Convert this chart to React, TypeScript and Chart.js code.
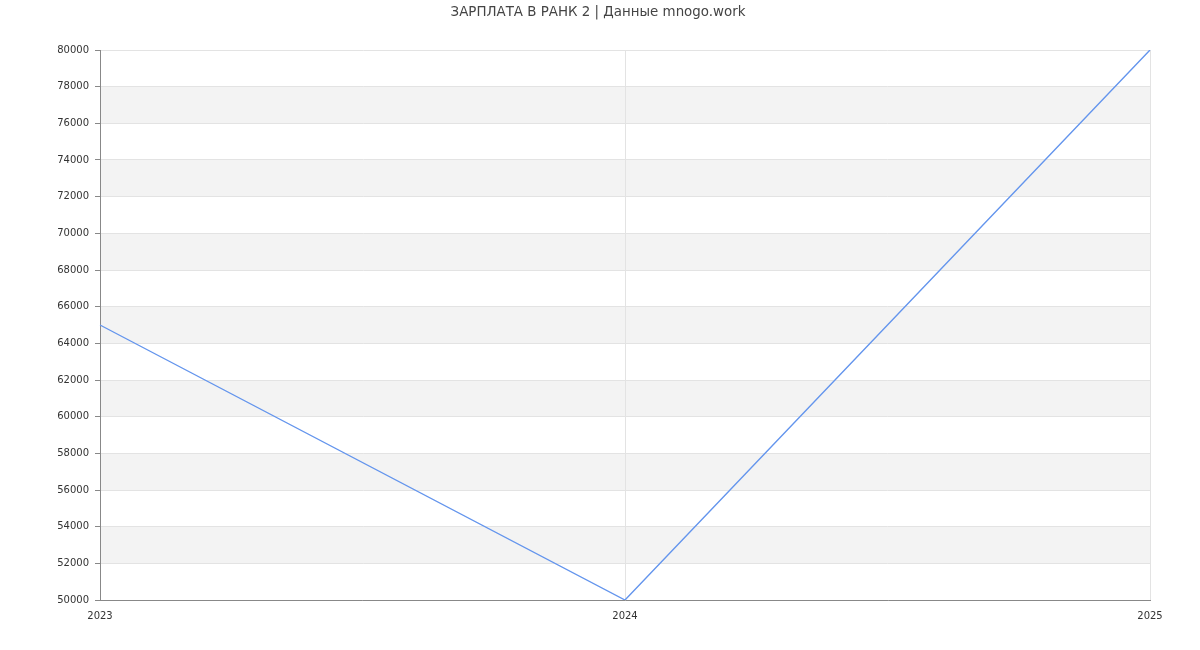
import React, { useEffect, useRef } from "react";
import { Chart, registerables } from "chart.js";

Chart.register(...registerables);

const years = ["2023", "2024", "2025"];
const salaries = [65000, 50000, 80000];
const titleText = "ЗАРПЛАТА В РАНК 2 | Данные mnogo.work";
const yMin = 50000;
const yMax = 80000;
const yStep = 2000;

const bandsPlugin = {
  id: "bands",
  beforeDraw(chart: any) {
    const { ctx, chartArea, scales } = chart;
    const y = scales.y;
    ctx.save();
    ctx.fillStyle = "#f3f3f3";
    for (let v = yMin; v < yMax; v += yStep) {
      if (((v - yMin) / yStep) % 2 === 1) {
        const top = y.getPixelForValue(v + yStep);
        const bot = y.getPixelForValue(v);
        ctx.fillRect(chartArea.left, top, chartArea.right - chartArea.left, bot - top);
      }
    }
    ctx.restore();
  },
};

const titlePlugin = {
  id: "customTitle",
  afterDraw(chart: any) {
    const { ctx } = chart;
    ctx.save();
    ctx.font = "13.4px 'DejaVu Sans'";
    ctx.fillStyle = "#444";
    ctx.textAlign = "center";
    ctx.textBaseline = "middle";
    ctx.fillText(titleText, 598, 12.5);
    ctx.restore();
  },
};

export default function App() {
  const ref = useRef<HTMLCanvasElement | null>(null);
  useEffect(() => {
    if (!ref.current) return;
    const chart = new Chart(ref.current, {
      type: "line",
      data: {
        labels: years,
        datasets: [
          {
            data: salaries,
            borderColor: "#6495ED",
            borderWidth: 1.4,
            pointRadius: 0,
            tension: 0,
            fill: false,
          },
        ],
      },
      options: {
        animation: false,
        responsive: false,
        maintainAspectRatio: false,
        layout: { padding: { top: 50, right: 50, left: 0, bottom: 0 } },
        plugins: { legend: { display: false }, tooltip: { enabled: false }, title: { display: false } },
        scales: {
          x: {
            offset: false,
            afterFit(scale: any) {
              scale.height = 50;
            },
            grid: { color: "#e3e3e3", drawTicks: false },
            border: { color: "#888", width: 1 },
            ticks: {
              padding: 10,
              color: "#333",
              font: { family: "'DejaVu Sans'", size: 10 },
              maxRotation: 0,
            },
          },
          y: {
            min: yMin,
            max: yMax,
            afterFit(scale: any) {
              scale.width = 100;
            },
            grid: { color: "#e3e3e3", tickColor: "#888", tickLength: 5 },
            border: { color: "#888", width: 1 },
            ticks: {
              stepSize: yStep,
              padding: 6,
              color: "#333",
              font: { family: "'DejaVu Sans'", size: 10 },
              callback: (v: any) => String(v),
            },
          },
        },
      },
      plugins: [bandsPlugin, titlePlugin],
    });
    return () => chart.destroy();
  }, []);
  return (
    <div style={{ position: "fixed", left: 0, top: 0, width: 1200, height: 650, background: "#fff" }}>
      <canvas ref={ref} width={1200} height={650} style={{ width: 1200, height: 650 }} />
    </div>
  );
}
